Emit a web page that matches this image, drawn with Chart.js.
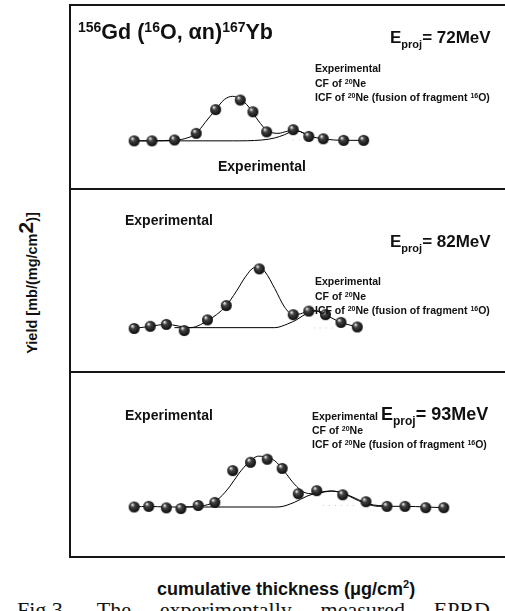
<!DOCTYPE html>
<html>
<head>
<meta charset="utf-8">
<script src="https://cdn.jsdelivr.net/npm/chart.js@4.4.0/dist/chart.umd.min.js"></script>
<style>
  body { margin: 0; width: 505px; height: 611px; overflow: hidden; background: #fff; position: relative;
         font-family: "Liberation Sans", Arial, sans-serif; font-weight: bold; color: #111; }
  .t { position: absolute; white-space: nowrap; line-height: 1; }
  .box { position: absolute; left: 69px; top: 4px; width: 480px; height: 550px; border: 2px solid #151515; }
  .sep { position: absolute; left: 69px; width: 480px; height: 2px; background: #151515; }
  .panel { position: absolute; left: 71px; width: 434px; }
  .up { position: relative; }
</style>
</head>
<body>
<div class="box"></div>
<div class="sep" style="top:188px"></div>
<div class="sep" style="top:371px"></div>

<div class="panel" style="top:6px;height:183px"><canvas id="c72"></canvas></div>
<div class="panel" style="top:190px;height:182px"><canvas id="c82"></canvas></div>
<div class="panel" style="top:373px;height:183px"><canvas id="c93"></canvas></div>

<!-- panel 1 texts -->
<div class="t" style="left:78px;top:22px;font-size:21.5px"><span class="up" style="font-size:14px;top:-7px">156</span>Gd (<span class="up" style="font-size:14px;top:-7px">16</span>O, αn)<span class="up" style="font-size:14px;top:-7px">167</span>Yb</div>
<div class="t" style="left:390px;top:29px;font-size:17px">E<span class="up" style="font-size:11px;top:5px">proj</span>= 72MeV</div>
<div class="t" style="left:315px;top:63px;font-size:10.5px">Experimental</div>
<div class="t" style="left:315px;top:77.5px;font-size:10.5px">CF of <span class="up" style="font-size:7px;top:-3px">20</span>Ne</div>
<div class="t" style="left:315px;top:91.5px;font-size:10.5px">ICF of <span class="up" style="font-size:7px;top:-3px">20</span>Ne (fusion of fragment <span class="up" style="font-size:7px;top:-3px">16</span>O)</div>
<div class="t" style="left:218px;top:159px;font-size:14px">Experimental</div>

<!-- panel 2 texts -->
<div class="t" style="left:125px;top:213px;font-size:14px">Experimental</div>
<div class="t" style="left:390px;top:233px;font-size:17px">E<span class="up" style="font-size:11px;top:5px">proj</span>= 82MeV</div>
<div class="t" style="left:315px;top:276px;font-size:10.5px">Experimental</div>
<div class="t" style="left:315px;top:290.5px;font-size:10.5px">CF of <span class="up" style="font-size:7px;top:-3px">20</span>Ne</div>
<div class="t" style="left:315px;top:304.5px;font-size:10.5px">ICF of <span class="up" style="font-size:7px;top:-3px">20</span>Ne (fusion of fragment <span class="up" style="font-size:7px;top:-3px">16</span>O)</div>

<!-- panel 3 texts -->
<div class="t" style="left:125px;top:408px;font-size:14px">Experimental</div>
<div class="t" style="left:381px;top:405px;font-size:18px">E<span class="up" style="font-size:12px;top:5px">proj</span>= 93MeV</div>
<div class="t" style="left:312px;top:411px;font-size:10.5px">Experimental</div>
<div class="t" style="left:312px;top:425px;font-size:10.5px">CF of <span class="up" style="font-size:7px;top:-3px">20</span>Ne</div>
<div class="t" style="left:312px;top:439px;font-size:10.5px">ICF of <span class="up" style="font-size:7px;top:-3px">20</span>Ne (fusion of fragment <span class="up" style="font-size:7px;top:-3px">16</span>O)</div>

<!-- axis titles -->
<div class="t" style="left:29px;top:283px;font-size:14.5px;transform:translate(-50%,-50%) rotate(-90deg)">Yield [mb/(mg/cm<span class="up" style="font-size:21px;top:-4px">2</span>)]</div>
<div class="t" style="left:157px;top:580px;font-size:18px">cumulative thickness (μg/cm<span class="up" style="font-size:11px;top:-7px">2</span>)</div>
<div class="t" style="left:17px;top:599px;width:473px;font-family:'Liberation Serif','Times New Roman',serif;font-weight:normal;font-size:22px;text-align:justify;text-align-last:justify">Fig.3. The experimentally measured EPRD</div>

<script>
// E = 72 MeV
const exp72X = [29.2, 38.4, 50, 61.2, 71.2, 83.9, 90.4, 97.5, 111.2, 119.2, 126.7, 137.2, 147.5];
const exp72Y = [0, 0, 0.5, 4.4, 18.4, 24, 17.1, 5.3, 6.6, 2.6, 1.2, 0.3, 0.3];
const fit72X = [29.2, 38.4, 50, 55, 61.2, 65.8, 71.2, 75.8, 80, 84.2, 88.3, 93.3, 97.5, 103.3, 108.3, 111.7, 115, 119.2, 126.7, 137.2, 147.5];
const fit72Y = [0, 0, 0.5, 1.2, 4.4, 10.8, 18.4, 24.4, 26.2, 24.4, 19.9, 11.7, 6.3, 4.4, 5.7, 6.3, 5.4, 3.0, 1.2, 0.3, 0.3];
const icf72X = [29.2, 80, 95, 101.7, 106.7, 111.7, 115, 119.2];
const icf72Y = [0, 0, 0.5, 1.7, 3.6, 5.9, 5.4, 3.0];
const dot72X = [111, 119];
const dot72Y = [0.6, 0.6];

// E = 82 MeV
const exp82X = [29.2, 37.5, 45.8, 55, 67, 76.7, 93.7, 111.2, 119.2, 127.8, 135.8, 144.2];
const exp82Y = [-0.6, 0.7, 1.8, -1.8, 4.5, 13.0, 34.7, 7.6, 9.7, 7.6, 3.0, 0.3];
const fit82X = [29.2, 37.5, 45.8, 58.3, 63.3, 67, 71.7, 76.7, 81.7, 86.7, 90.8, 93.7, 96.7, 101.7, 106.7, 111.2, 115, 119.2, 123.3, 127.8, 131.7, 135.8, 144.2];
const fit82Y = [-0.6, 0.7, 1.8, -0.1, 1.6, 4.1, 7.6, 13.0, 21.1, 30.2, 35.3, 35.7, 32.9, 23.0, 12.1, 7.6, 8.1, 9.7, 9.7, 7.6, 5.2, 3.0, 0.3];
const icf82X = [50, 101.7, 108.3, 113.3, 118.3, 121.7, 125, 127.8];
const icf82Y = [-0.1, -0.1, 2.1, 4.8, 8.5, 9.9, 9.4, 7.6];
const dot82X = [121.7, 133.3];
const dot82Y = [-0.3, -0.3];

// E = 93 MeV
const exp93X = [29.2, 36.7, 45.8, 53.3, 62.2, 70.8, 80, 89.2, 97.8, 105.5, 113.8, 123.3, 136.7, 148.7, 159.5, 168.8, 179.5, 188.8];
const exp93Y = [-0.4, 0, -0.9, -1.3, 0.5, 2.3, 21.0, 25.9, 27.7, 22.3, 7.4, 9.2, 6.8, 2.7, 0, 0, -0.8, -0.8];
const fit93X = [29.2, 36.7, 45.8, 53.3, 62.2, 68.3, 73.3, 78.3, 83.3, 88.3, 93.3, 96.7, 101.7, 106.7, 111.7, 116.7, 121.7, 126.7, 130.8, 135, 140, 145, 150, 155, 159.5, 168.8, 179.5, 188.8];
const fit93Y = [-0.4, 0, -0.4, -0.4, 0.1, 1.4, 5.0, 11.4, 19.5, 25.9, 29.5, 29.1, 26.8, 20.4, 13.2, 8.3, 7.4, 8.3, 9.0, 8.3, 6.0, 3.2, 1.1, 0, 0, 0, -0.4, -0.8];
const icf93X = [53.3, 103.3, 111.7, 118.3, 125, 130.8, 136.7, 143.3, 150, 160];
const icf93Y = [-0.4, -0.4, 2.3, 6.0, 8.3, 9.0, 7.8, 4.7, 1.4, 0];
const dot93X = [126.5, 143.5];
const dot93Y = [0.5, 0.5];

const xMax = 217;

// shiny black ball used as the point marker
function makeBall(r) {
    const c = document.createElement('canvas');
    c.width = c.height = 2 * r + 2;
    const g = c.getContext('2d');
    const grad = g.createRadialGradient(r - 1, r - 1.5, 0.3, r + 1, r + 1, r + 1);
    grad.addColorStop(0, '#f4f4f4');
    grad.addColorStop(0.3, '#444');
    grad.addColorStop(1, '#000');
    g.fillStyle = grad;
    g.beginPath();
    g.arc(r + 1, r + 1, r, 0, Math.PI * 2);
    g.fill();
    return c;
}
const ball = makeBall(5.5);

const pts = (xs, ys) => xs.map((x, i) => ({ x: x, y: ys[i] }));

function drawPanel(id, yMin, ex, ey, fx, fy, ix, iy, dx, dy) {
    new Chart(document.getElementById(id), {
        type: 'scatter',
        data: {
            datasets: [
                { data: pts(ex, ey), pointStyle: ball, pointRadius: 5.5, showLine: false, order: 0 },
                { data: pts(fx, fy), showLine: true, pointRadius: 0, borderColor: '#000', borderWidth: 1,
                  cubicInterpolationMode: 'monotone', order: 1 },
                { data: pts(ix, iy), showLine: true, pointRadius: 0, borderColor: '#000', borderWidth: 1,
                  cubicInterpolationMode: 'monotone', order: 2 },
                { data: pts(dx, dy), showLine: true, pointRadius: 0, borderColor: '#c8c8c8', borderWidth: 1,
                  borderDash: [1, 5], order: 3 }
            ]
        },
        options: {
            responsive: true,
            maintainAspectRatio: false,
            animation: false,
            layout: { padding: 0 },
            clip: false,
            plugins: { legend: { display: false }, tooltip: { enabled: false } },
            scales: {
                x: { type: 'linear', min: 0, max: xMax, display: false },
                y: { min: yMin, max: yMin + 100, display: false }
            }
        }
    });
}

drawPanel('c72', -24.5, exp72X, exp72Y, fit72X, fit72Y, icf72X, icf72Y, dot72X, dot72Y);
drawPanel('c82', -22.5, exp82X, exp82Y, fit82X, fit82Y, icf82X, icf82Y, dot82X, dot82Y);
drawPanel('c93', -25.4, exp93X, exp93Y, fit93X, fit93Y, icf93X, icf93Y, dot93X, dot93Y);
</script>
</body>
</html>
